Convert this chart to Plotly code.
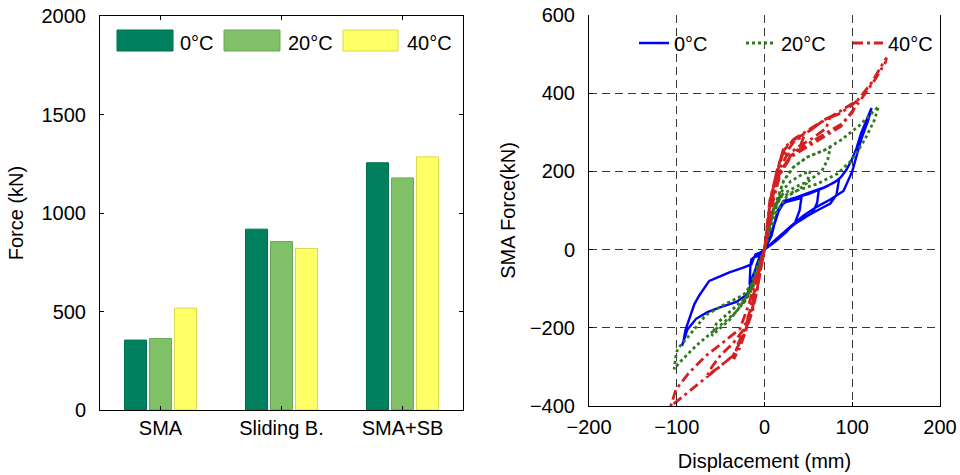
import plotly.graph_objects as go

# ---------------- data ----------------
CATEGORIES = ["SMA", "Sliding B.", "SMA+SB"]
TEMPS = ["0°C", "20°C", "40°C"]
FORCE_0C = [355, 918, 1255]
FORCE_20C = [363, 855, 1178]
FORCE_40C = [517, 820, 1285]

BAR_COLORS = ["#00805f", "#80c066", "#ffff66"]
BAR_EDGES = ["#00704f", "#6aa955", "#d9d94e"]

DISP_0C = [0, 8, 14, 22, 35, 42, 40, 35, 25, 12, 0,
           -6, -12, -15, -16, -17, -12, -6, 0,
           10, 15, 22, 40, 55, 62, 60, 55, 45, 30, 15, 0,
           12, 18, 30, 50, 70, 85, 82, 75, 60, 40, 20, 0,
           -5, -9, -14, -20, -32, -50, -65, -78, -88, -94, -92, -90, -86, -80, -74, -63, -50, -40, -25, -15, -12, -10, -5, 0,
           8, 14, 22, 40, 50, 68, 80, 87, 93, 99, 105, 110, 116, 122, 118, 113, 110, 105, 100, 90, 75, 60, 45, 30, 15, 0]
FORCE_0C_CURVE = [0, 40, 90, 120, 128, 132, 100, 70, 45, 20, 0,
                  -15, -20, -25, -40, -90, -60, -30, 0,
                  55, 100, 125, 135, 148, 155, 120, 95, 80, 60, 30, 0,
                  70, 112, 130, 142, 160, 180, 140, 118, 100, 75, 40, 0,
                  -15, -40, -80, -115, -134, -147, -160, -177, -205, -246, -230, -205, -177, -140, -116, -80, -68, -58, -47, -38, -20, -12, -8, 0,
                  35, 90, 122, 138, 145, 159, 172, 185, 203, 228, 260, 297, 330, 362, 330, 300, 280, 240, 200, 150, 128, 110, 88, 60, 30, 0]

DISP_20C = [0, 6, 12, 20, 30, 45, 52, 48, 40, 25, 12, 0,
            -5, -12, -20, -25, -20, -12, -5, 0,
            7, 14, 22, 33, 49, 68, 75, 72, 65, 50, 35, 20, 10, 0,
            -10, -20, -40, -60, -55, -40, -20, -10, 0,
            -9, -17, -32, -55, -78, -97, -103, -101, -99, -86, -67, -47, -24, -15, -9, 0,
            6.5, 14, 22, 33, 49, 68, 87, 107, 130, 125, 114, 99, 83, 60, 37, 18, 8, 0]
FORCE_20C_CURVE = [0, 60, 110, 150, 175, 195, 200, 170, 155, 135, 90, 0,
                   -30, -80, -120, -140, -125, -90, -40, 0,
                   80, 125, 177, 211, 237, 254, 262, 230, 200, 175, 160, 140, 100, 0,
                   -70, -125, -180, -220, -190, -160, -120, -60, 0,
                   -65, -108, -159, -203, -246, -289, -306, -272, -254, -220, -168, -142, -116, -90, -47, 0,
                   82, 125, 177, 211, 237, 254, 280, 315, 366, 330, 280, 228, 194, 168, 151, 134, 80, 0]

DISP_40C = [0, 6, 12, 18, 25, 35, 45, 40, 30, 18, 10, 0,
            -8, -14, -20, -28, -35, -30, -22, -15, -8, 0,
            7, 14, 22, 33, 53, 68, 75, 70, 55, 40, 25, 14, 6, 0,
            -9, -17, -24, -36, -55, -65, -60, -50, -36, -24, -17, -9, 0,
            6.5, 14, 22, 33, 53, 68, 87, 100, 107, 100, 87, 68, 49, 30, 18, 8, 0,
            6.5, 14, 22, 35, 60, 87, 107, 122, 139, 138, 126, 110, 87, 68, 49, 30, 18, 10, 0,
            -9, -17, -24, -36, -55, -74, -93, -107, -104, -101, -86, -67, -47, -28, -17, -9, 0]
FORCE_40C_CURVE = [0, 125, 180, 230, 250, 280, 290, 260, 240, 200, 140, 0,
                   -100, -160, -200, -250, -280, -240, -200, -150, -80, 0,
                   130, 194, 254, 280, 306, 332, 340, 310, 285, 265, 240, 190, 110, 0,
                   -108, -177, -220, -272, -306, -322, -300, -270, -240, -205, -160, -80, 0,
                   125, 194, 254, 280, 306, 332, 349, 370, 384, 350, 320, 295, 270, 240, 200, 120, 0,
                   125, 200, 260, 285, 320, 355, 384, 427, 491, 480, 435, 384, 315, 289, 263, 237, 194, 125, 0,
                   -108, -177, -220, -272, -306, -341, -375, -401, -380, -358, -315, -272, -237, -203, -134, -65, 0]

FONT = "Liberation Sans, Arial, sans-serif"

fig = go.Figure()

# ---------------- left: bar chart ----------------
for name, vals, col, edge in zip(TEMPS, [FORCE_0C, FORCE_20C, FORCE_40C], BAR_COLORS, BAR_EDGES):
    fig.add_trace(go.Bar(x=CATEGORIES, y=vals, name=name, marker=dict(color=col, line=dict(color=edge, width=1)),
                         xaxis="x", yaxis="y", showlegend=False))

# ---------------- right: hysteresis ----------------
fig.add_trace(go.Scatter(x=DISP_0C, y=FORCE_0C_CURVE, mode="lines", name="0°C",
                         line=dict(color="#0000ff", width=2.4), xaxis="x2", yaxis="y2"))
fig.add_trace(go.Scatter(x=DISP_20C, y=FORCE_20C_CURVE, mode="lines", name="20°C",
                         line=dict(color="#2f7a1f", width=2.8, dash="3px,3px"), xaxis="x2", yaxis="y2"))
fig.add_trace(go.Scatter(x=DISP_40C, y=FORCE_40C_CURVE, mode="lines", name="40°C",
                         line=dict(color="#d42020", width=2.8, dash="10px,4px,3px,4px"), xaxis="x2", yaxis="y2"))

# left legend drawn as swatches + labels (paper coordinates)
W, H = 960, 475
legend_rects = [(117, 173), (224, 280), (343, 398)]
legend_text_x = [178, 286, 405]
shapes = []
annotations = []
for (x0, x1), tx, col, edge, name in zip(legend_rects, legend_text_x, BAR_COLORS, BAR_EDGES, TEMPS):
    shapes.append(dict(type="rect", xref="paper", yref="paper", x0=x0 / W, x1=x1 / W,
                       y0=1 - 51 / H, y1=1 - 30 / H, fillcolor=col, line=dict(color=edge, width=1)))
    annotations.append(dict(xref="paper", yref="paper", x=tx / W, y=1 - 43 / H, text=name, showarrow=False,
                            xanchor="left", yanchor="middle", font=dict(size=20, color="black", family=FONT)))

axis_common = dict(showline=True, linecolor="black", linewidth=1, ticks="inside", ticklen=4,
                   tickcolor="black", tickfont=dict(size=20, color="black", family=FONT),
                   automargin=False, zeroline=False)

fig.update_layout(
    width=W, height=H, margin=dict(l=0, r=0, t=0, b=0),
    paper_bgcolor="white", plot_bgcolor="white",
    font=dict(family=FONT, size=20, color="black"),
    barmode="group", bargap=0.38, bargroupgap=0.12,
    xaxis=dict(domain=[100 / W, 463 / W], anchor="y", type="category", mirror="ticks",
               showgrid=False, ticklabelstandoff=0, **axis_common),
    yaxis=dict(domain=[1 - 410 / H, 1 - 16 / H], anchor="x", range=[0, 2000], dtick=500, mirror="ticks",
               showgrid=False, ticklabelstandoff=9,
               title=dict(text="Force (kN)", font=dict(size=20, family=FONT), standoff=12), **axis_common),
    xaxis2=dict(domain=[589 / W, 940 / W], anchor="y2", range=[-200, 200], dtick=100,
                showgrid=True, gridcolor="#383838", griddash="8px,5px", gridwidth=1.1, ticklabelstandoff=3,
                title=dict(text="Displacement (mm)", font=dict(size=20, family=FONT), standoff=16), **axis_common),
    yaxis2=dict(domain=[1 - 406 / H, 1 - 15 / H], anchor="x2", range=[-400, 600], dtick=200, mirror=True,
                showgrid=True, gridcolor="#383838", griddash="8px,5px", gridwidth=1.1, ticklabelstandoff=9,
                title=dict(text="SMA Force(kN)", font=dict(size=20, family=FONT), standoff=8), **axis_common),
    legend=dict(orientation="h", x=634 / W, y=1 - 43 / H, xanchor="left", yanchor="middle",
                bgcolor="rgba(0,0,0,0)", borderwidth=0, entrywidth=62,
                font=dict(size=20, color="black", family=FONT)),
    shapes=shapes, annotations=annotations,
)

fig.write_html("out.html")
